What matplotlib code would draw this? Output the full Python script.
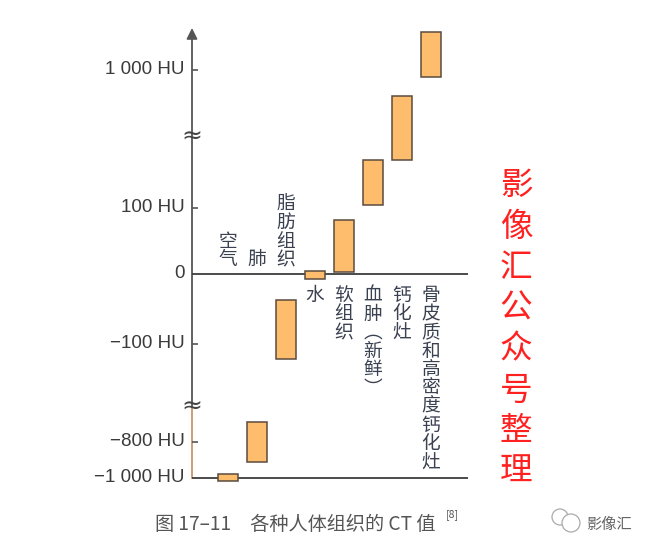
import numpy as np
import matplotlib.pyplot as plt
from matplotlib.patches import Ellipse

plt.rcParams['font.family'] = ['Noto Sans CJK SC', 'DejaVu Sans']

# tissues, left to right
tissues = ['空气', '肺', '脂肪组织', '水', '软组织', '血肿︵新鲜︶', '钙化灶', '骨皮质和高密度钙化灶']
hu_low = [-1015, -910, -123, -7, 3, 104, 173, 922]
hu_high = [-980, -680, -37, 5, 82, 173, 711, 1427]
label_above = [True, True, True, False, False, False, False, False]

# labelled levels on the axis
tick_values = [1000, 100, -100, -800]
tick_labels = ['1 000 HU', '100 HU', '−100 HU', '−800 HU']
line_values = [0, -1000]
line_labels = ['0', '−1 000 HU']
axis_breaks = [255, -195]

# broken axis: HU -> pixel row in the original figure
knot_hu = [-4000, -1000, -800, -700, -200, -100, 0, 100, 200, 1000, 5000]
knot_px = [1033, 478, 441.5, 423, 410, 344, 274, 208, 142, 70, -290]

W, H = 654, 552
rows = H - np.array(knot_px, dtype=float)


def fwd(v):
    return np.interp(v, knot_hu, rows)


def inv(v):
    return np.interp(v, rows, knot_hu)


fig = plt.figure(figsize=(W / 100, H / 100), dpi=100)
ax = fig.add_axes([0, 0, 1, 1])
ax.set_yscale('function', functions=(fwd, inv))
ax.set_ylim(inv(0), inv(H))

# x in category steps: first bar at px 228, 29 px apart
x0, step = 228, 29
ax.set_xlim(-x0 / step, (W - x0) / step)
ax.axis('off')

ax_x = (192 - x0) / step
line_end = (468 - x0) / step
x = np.arange(len(tissues))

# bars
ax.bar(x, np.subtract(hu_high, hu_low), bottom=hu_low, width=0.66,
       color='#fdbd6c', edgecolor='#5b4b3f', linewidth=1.1, zorder=3)

# axis (lower piece tan, upper gray with arrow)
ax.plot([ax_x, ax_x], [-1000, axis_breaks[1]], color='#c9956b', lw=1.3, zorder=2)
ax.annotate('', xy=(ax_x, inv(H - 28)), xytext=(ax_x, axis_breaks[1]),
            arrowprops=dict(arrowstyle='-|>', color='#555555', lw=1.3,
                            mutation_scale=16, shrinkA=0, shrinkB=0), zorder=2)
for b in axis_breaks:
    ax.text(ax_x, b, '≈', ha='center', va='center', fontsize=18,
            color='#444444', family='DejaVu Sans', zorder=4)

ax.hlines(line_values, ax_x, line_end, color='#3d3d3d', lw=1.3, zorder=2)
ax.hlines(tick_values, ax_x, ax_x + 0.2, color='#555555', lw=1.2, zorder=2)

for v, lab in zip(tick_values + line_values, tick_labels + line_labels):
    ax.annotate(lab, xy=(ax_x, v), xytext=(-7, 0), textcoords='offset pixels',
                ha='right', va='center', fontsize=13.5, color='#3a3a3a',
                family='Liberation Sans')

# stacked vertical labels, one character at a time
pitch = 18.5
for i, (name, above) in enumerate(zip(tissues, label_above)):
    chars = list(name)
    if above:
        for k, ch in enumerate(reversed(chars)):
            ax.annotate(ch, xy=(i, 0), xytext=(0, 4 + k * pitch),
                        textcoords='offset pixels', ha='center', va='bottom',
                        fontsize=13.5, color='#3a4150')
    else:
        for k, ch in enumerate(chars):
            ax.annotate(ch, xy=(i, 0), xytext=(0, -11 - k * pitch),
                        textcoords='offset pixels', ha='center', va='top',
                        fontsize=13.5, color='#3a4150')

# watermark
for k, ch in enumerate('影像汇公众号整理'):
    fig.text(516 / W, 1 - (186 + k * 40.9) / H, ch, ha='center', va='center',
             fontsize=23.5, color='#ff2020')

# caption
fig.text(155 / W, 1 - 524 / H, '图 17–11　各种人体组织的 CT 值', ha='left',
         va='center', fontsize=13.8, color='#555555')
fig.text(446 / W, 1 - 515 / H, '[8]', ha='left', va='center', fontsize=7.5,
         color='#555555')

# wechat mark
for cx, cy, r in [(560, 517, 8), (571, 523, 9)]:
    fig.add_artist(Ellipse((cx / W, 1 - cy / H), 2 * r / W, 2 * r / H,
                           transform=fig.transFigure, facecolor='white',
                           edgecolor='#aaaaaa', lw=0.9))
fig.text(586 / W, 1 - 525 / H, '影像汇', ha='left', va='center', fontsize=11,
         color='#666666')

fig.savefig('out.png', dpi=100)
